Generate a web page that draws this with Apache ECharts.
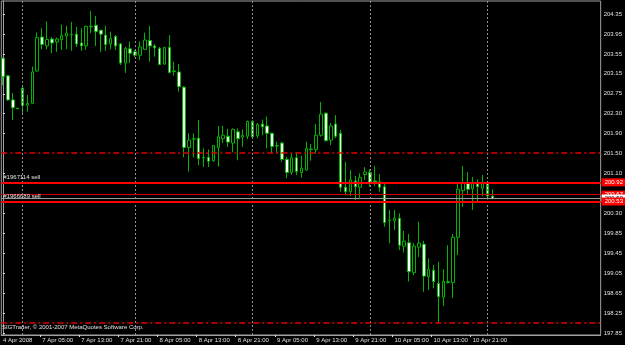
<!DOCTYPE html>
<html>
<head>
<meta charset="utf-8">
<script src="https://cdn.jsdelivr.net/npm/echarts@6/dist/echarts.min.js"></script>
<style>
  html, body { margin: 0; padding: 0; background: #000; }
  #chart { width: 625px; height: 345px; }
</style>
</head>
<body>
<div id="chart"></div>
<script>
// hourly bars, 4 Apr 2008 21:00 .. 11 Apr 01:00
const opens = [
  203.45, 203.09, 202.60, 202.43, 202.84, 202.49, 202.53, 203.19, 203.88, 203.70,
  203.84, 203.78, 203.83, 203.90, 203.94, 203.94, 203.76, 203.70, 204.10, 204.12,
  204.02, 203.92, 203.74, 203.89, 203.74, 203.35, 203.64, 203.58, 203.51, 203.63,
  203.81, 203.70, 203.65, 203.33, 203.67, 203.19, 203.17, 202.86, 201.63, 201.80,
  201.82, 201.43, 201.43, 201.36, 201.63, 201.81, 201.86, 201.72, 201.95, 201.84,
  201.86, 202.16, 201.87, 202.11, 202.07, 201.92, 201.67, 201.72, 201.39, 201.12,
  201.42, 201.12, 201.17, 201.60, 201.59, 201.88, 202.33, 201.78, 202.11, 201.92,
  200.82, 200.73, 200.95, 200.82, 201.08, 201.12, 200.95, 200.93, 200.83, 200.14,
  200.14, 200.19, 199.62, 199.69, 199.08, 199.60, 199.66, 199.00, 199.13, 198.86,
  198.58, 198.88, 198.88, 199.80, 200.75, 200.91, 200.79, 200.89, 200.80, 200.90,
  200.64
];
const highs = [
  203.47, 203.11, 202.74, 202.44, 202.86, 202.70, 203.28, 203.97, 204.06, 204.20,
  203.88, 203.87, 204.13, 204.11, 204.19, 204.09, 204.06, 204.11, 204.41, 204.31,
  204.03, 204.11, 203.99, 203.92, 203.76, 203.68, 203.79, 203.62, 203.79, 203.97,
  204.11, 203.74, 203.68, 203.68, 203.92, 203.38, 203.33, 202.88, 201.92, 201.92,
  202.19, 201.61, 201.59, 201.68, 202.07, 202.07, 202.01, 202.02, 202.02, 202.00,
  202.18, 202.19, 202.13, 202.20, 202.26, 201.93, 201.75, 201.75, 201.44, 201.51,
  201.54, 201.46, 201.75, 201.70, 202.11, 202.56, 202.34, 202.13, 202.29, 201.99,
  201.34, 201.17, 201.05, 201.10, 201.23, 201.19, 201.25, 201.09, 200.90, 200.36,
  200.36, 200.29, 199.93, 199.87, 199.68, 200.12, 199.73, 199.37, 199.24, 199.30,
  199.15, 199.64, 199.87, 200.91, 201.25, 201.13, 201.03, 200.98, 201.07, 200.91,
  200.78
];
const lows = [
  202.90, 202.58, 202.19, 202.41, 202.33, 202.36, 202.52, 203.17, 203.63, 203.63,
  203.55, 203.58, 203.62, 203.63, 203.60, 203.68, 203.60, 203.62, 203.96, 203.70,
  203.58, 203.60, 203.63, 203.62, 203.31, 203.15, 203.35, 203.47, 203.41, 203.62,
  203.38, 203.48, 203.31, 203.32, 203.14, 203.09, 202.77, 201.43, 201.14, 201.43,
  201.27, 201.23, 201.23, 201.34, 201.24, 201.72, 201.64, 201.53, 201.37, 201.64,
  201.80, 201.80, 201.82, 201.88, 201.61, 201.51, 201.51, 201.34, 201.00, 201.07,
  201.07, 201.02, 201.16, 201.36, 201.51, 201.85, 201.75, 201.68, 201.82, 200.73,
  200.66, 200.64, 200.56, 200.61, 200.97, 200.83, 200.85, 200.73, 200.02, 199.68,
  199.95, 199.54, 199.49, 198.90, 199.03, 199.40, 198.69, 198.73, 198.76, 198.06,
  198.40, 198.86, 198.56, 199.44, 200.42, 200.66, 200.36, 200.50, 200.64, 200.57,
  200.58
];
const closes = [
  203.07, 202.60, 202.44, 202.42, 202.49, 202.53, 203.17, 203.87, 203.73, 203.83,
  203.76, 203.84, 203.91, 203.96, 203.93, 203.74, 203.70, 204.10, 204.09, 203.99,
  203.94, 203.73, 203.85, 203.70, 203.35, 203.65, 203.55, 203.51, 203.68, 203.82,
  203.70, 203.66, 203.32, 203.67, 203.16, 203.18, 202.87, 201.63, 201.78, 201.81,
  201.40, 201.42, 201.35, 201.67, 201.85, 201.88, 201.74, 202.00, 201.81, 201.88,
  202.16, 201.85, 202.10, 202.05, 201.92, 201.65, 201.66, 201.39, 201.12, 201.42,
  201.14, 201.21, 201.61, 201.59, 201.88, 202.31, 201.77, 202.07, 201.86, 200.82,
  200.73, 200.97, 200.83, 201.02, 201.13, 200.90, 200.93, 200.82, 200.10, 200.15,
  200.19, 199.64, 199.72, 199.10, 199.62, 199.68, 199.01, 199.15, 198.90, 198.59,
  198.90, 198.90, 199.80, 200.78, 200.91, 200.78, 200.90, 200.83, 200.90, 200.64,
  200.59
];

const xLabels = ['4 Apr 2008', '7 Apr 05:00', '7 Apr 13:00', '7 Apr 21:00', '8 Apr 05:00',
  '8 Apr 13:00', '8 Apr 21:00', '9 Apr 05:00', '9 Apr 13:00', '9 Apr 21:00',
  '10 Apr 05:00', '10 Apr 13:00', '10 Apr 21:00'];
const xLabelAt = [0, 8, 16, 24, 32, 40, 48, 56, 64, 72, 80, 88, 96];
const dayBreaks = [4, 27, 51, 75, 99];

const yTickValues = [197.850, 198.256, 198.663, 199.069, 199.475, 199.881, 200.288,
  201.100, 201.506, 201.913, 202.319, 202.725, 203.131, 203.538, 203.944, 204.350];
const yTickLabels = ['197.85', '198.25', '198.65', '199.05', '199.45', '199.85', '200.30',
  '201.10', '201.50', '201.90', '202.30', '202.75', '203.15', '203.55', '203.95', '204.35'];

const dashLevels = [201.52, 198.05];
const orderNames = ['#1967114 sell', '#1966689 sell'];
const orderPrices = [200.92, 200.53];
const stopPrice = 200.67;
const bidPrice = 200.59;

const FONT = 'Liberation Sans';
const fg = '#e0e0e0';
const frame = '#a0a0a0';
const candleGreen = '#00b400';

const chart = echarts.init(document.getElementById('chart'), null, { renderer: 'canvas' });

const candles = opens.map((o, i) => [i, o, closes[i], lows[i], highs[i]]);

const boxLabel = (text, bg, color) => ({
  show: true,
  position: 'end',
  distance: 1,
  formatter: text,
  backgroundColor: bg,
  color: color,
  fontFamily: FONT,
  fontSize: 6,
  padding: [1, 3, 1, 3]
});

const orderText = (text) => ({
  show: true,
  position: 'insideStartTop',
  distance: 2,
  formatter: text,
  color: fg,
  fontFamily: FONT,
  fontSize: 6
});

const hLines = [];
dashLevels.forEach(v => hLines.push({
  yAxis: v,
  lineStyle: { color: '#e00000', width: 1.5, type: [6, 3, 2, 3] },
  label: { show: false }
}));
hLines.push({
  yAxis: stopPrice,
  lineStyle: { color: '#d00000', width: 1, type: 'solid' },
  label: boxLabel(stopPrice.toFixed(2), '#ff0000', '#ffffff')
});
hLines.push({
  yAxis: bidPrice,
  lineStyle: { color: '#9a9a9a', width: 1, type: 'solid' },
  label: boxLabel(bidPrice.toFixed(2), '#ffffff', '#000000')
});
orderPrices.forEach((p, i) => {
  hLines.push({
    yAxis: p,
    lineStyle: { color: '#ff0000', width: 2, type: 'solid' },
    label: boxLabel(p.toFixed(2), '#ff0000', '#ffffff')
  });
  // order ticket text sits on the left, just above its line
  hLines.push({
    yAxis: p,
    lineStyle: { color: 'rgba(0,0,0,0)', width: 0 },
    label: orderText(orderNames[i])
  });
});

chart.setOption({
  backgroundColor: '#000000',
  animation: false,
  title: {
    text: 'SIGTrader, © 2001-2007 MetaQuotes Software Corp.',
    left: 2,
    top: 324,
    padding: 0,
    textStyle: { color: fg, fontFamily: FONT, fontSize: 6, fontWeight: 'normal' }
  },
  grid: {
    left: 1, top: 1, right: 23, bottom: 10,
    show: true,
    borderColor: frame,
    borderWidth: 1,
    backgroundColor: '#000000'
  },
  xAxis: {
    type: 'value',
    min: -0.35,
    max: 122.15,
    axisLine: { show: true, lineStyle: { color: frame } },
    axisTick: {
      show: true,
      length: 2,
      lineStyle: { color: fg },
      customValues: xLabelAt.map(v => v - 0.45)
    },
    axisLabel: {
      customValues: xLabelAt,
      formatter: v => {
        const i = xLabelAt.indexOf(Math.round(v));
        return i >= 0 ? xLabels[i] : '';
      },
      align: 'left',
      margin: 2,
      color: fg,
      fontFamily: FONT,
      fontSize: 6
    },
    splitLine: { show: false }
  },
  yAxis: {
    type: 'value',
    position: 'right',
    min: 197.81,
    max: 204.615,
    axisLine: { show: true, lineStyle: { color: frame } },
    axisTick: {
      show: true,
      length: 2,
      lineStyle: { color: fg },
      customValues: yTickValues
    },
    axisLabel: {
      customValues: yTickValues,
      formatter: v => {
        const i = yTickValues.findIndex(t => Math.abs(t - v) < 1e-6);
        return i >= 0 ? yTickLabels[i] : '';
      },
      margin: 3,
      color: fg,
      fontFamily: FONT,
      fontSize: 6
    },
    splitLine: { show: false }
  },
  series: [
    {
      type: 'line',
      data: [],
      z: 1,
      silent: true,
      markLine: {
        silent: true,
        symbol: ['none', 'none'],
        animation: false,
        label: { show: false },
        lineStyle: { color: '#909090', width: 1, type: [2, 2] },
        data: dayBreaks.map(v => ({ xAxis: v }))
      }
    },
    {
      type: 'candlestick',
      z: 2,
      barWidth: 3,
      data: candles,
      encode: { x: 0, y: [1, 2, 3, 4] },
      itemStyle: {
        color: '#000000',
        color0: '#ffffff',
        borderColor: candleGreen,
        borderColor0: candleGreen,
        borderColorDoji: candleGreen,
        borderWidth: 1
      }
    },
    {
      type: 'line',
      data: [],
      z: 3,
      silent: true,
      markLine: {
        silent: true,
        symbol: ['none', 'none'],
        animation: false,
        data: hLines
      }
    }
  ]
});
</script>
</body>
</html>
